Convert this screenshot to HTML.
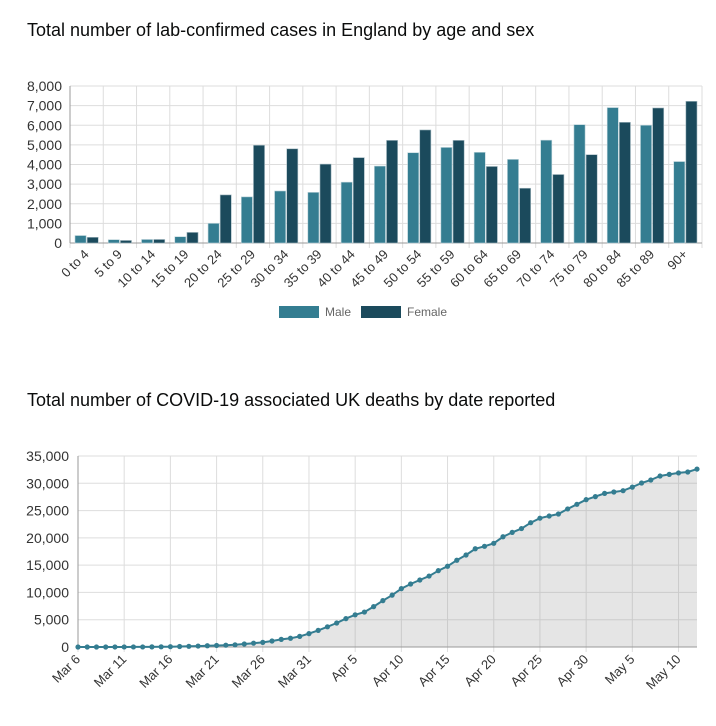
<!DOCTYPE html>
<html><head><meta charset="utf-8"><style>
body{margin:0;background:#fff;width:716px;height:726px;overflow:hidden;font-family:"Liberation Sans",sans-serif}
h2{position:absolute;left:27px;margin:0;font-weight:normal;font-size:18px;color:#0b0c0c}
svg{position:absolute;left:0;top:0}
</style></head><body>
<h2 style="top:20px">Total number of lab-confirmed cases in England by age and sex</h2>
<h2 style="top:390px">Total number of COVID-19 associated UK deaths by date reported</h2>
<svg id="s" width="716" height="726"></svg>
<script>
const ageGroups=["0 to 4","5 to 9","10 to 14","15 to 19","20 to 24","25 to 29","30 to 34","35 to 39","40 to 44","45 to 49","50 to 54","55 to 59","60 to 64","65 to 69","70 to 74","75 to 79","80 to 84","85 to 89","90+"];
const maleCases=[380,170,180,320,1000,2350,2650,2580,3100,3920,4600,4870,4620,4260,5240,6030,6900,6000,4150];
const femaleCases=[290,130,180,540,2450,4980,4800,4020,4350,5230,5760,5230,3900,2790,3490,4500,6150,6880,7220];
const casesTicks=[0,1000,2000,3000,4000,5000,6000,7000,8000];
const deathTicks=[0,5000,10000,15000,20000,25000,30000,35000];
const dateLabels=["Mar 6","Mar 11","Mar 16","Mar 21","Mar 26","Mar 31","Apr 5","Apr 10","Apr 15","Apr 20","Apr 25","Apr 30","May 5","May 10"];
const deaths=[1,2,3,4,6,8,10,14,21,35,60,90,130,170,230,280,330,400,550,700,850,1100,1400,1600,1950,2450,3050,3700,4400,5200,5900,6400,7400,8500,9500,10700,11540,12280,13000,13990,14800,15900,16860,18000,18450,19000,20200,21000,21700,22780,23600,24000,24370,25300,26150,27000,27560,28150,28400,28640,29300,30050,30600,31330,31630,31900,32070,32600];
const NS="http://www.w3.org/2000/svg",svg=document.getElementById('s');
function mk(t,a,txt){const e=document.createElementNS(NS,t);for(const k in a)e.setAttribute(k,a[k]);if(txt!==undefined)e.textContent=txt;svg.appendChild(e);return e;}
const fmt=v=>v.toLocaleString('en-US');
// chart 1
const L1=70,R1=702,T1=86,B1=243,cw=(R1-L1)/ageGroups.length;
const y1=v=>B1-v/8000*(B1-T1), x1=i=>L1+i*cw;
casesTicks.forEach(v=>{
 const g=mk('line',{x1:L1,x2:R1,y1:y1(v),y2:y1(v),stroke:'#ddd'});
 
 const t=mk('text',{x:62,y:y1(v)+5,'text-anchor':'end','font-size':14,fill:'#333'},fmt(v));
 
});
for(let i=0;i<=ageGroups.length;i++){const g=mk('line',{x1:x1(i),x2:x1(i),y1:T1,y2:B1+5,stroke:'#ddd'});
 }
mk('line',{x1:L1,x2:L1,y1:T1,y2:B1,stroke:'#999'});
mk('line',{x1:L1,x2:R1,y1:B1,y2:B1,stroke:'#999'});
ageGroups.forEach((c,i)=>{
 const bx=x1(i)+5,bw=(cw-10-1)/2;
 const m=mk('rect',{x:bx,y:y1(maleCases[i]),width:bw,height:B1-y1(maleCases[i]),fill:'#347d91',stroke:'#bcd3da','stroke-width':0.6});
 
 const f=mk('rect',{x:bx+bw+1,y:y1(femaleCases[i]),width:bw,height:B1-y1(femaleCases[i]),fill:'#1b4a5c',stroke:'#a8bcc4','stroke-width':0.6});
 
 const cx=x1(i)+cw/2+3,cy=B1+12;
 const t=mk('text',{x:cx,y:cy,'text-anchor':'end','font-size':13,fill:'#333',transform:`rotate(-45 ${cx} ${cy})`},c);
 
});
let e;
e=mk('rect',{x:279,y:306,width:40,height:12,fill:'#347d91'});
e=mk('text',{x:325,y:316,'font-size':12,fill:'#666'},'Male');
e=mk('rect',{x:361,y:306,width:40,height:12,fill:'#1b4a5c'});
e=mk('text',{x:407,y:316,'font-size':12,fill:'#666'},'Female');
// chart 2
const L2=78,R2=697,T2=456,B2=647,n=deaths.length,dx=(R2-L2)/(n-1);
const y2=v=>B2-v/35000*(B2-T2), x2=i=>L2+i*dx;
deathTicks.forEach(v=>{
 const g=mk('line',{x1:L2,x2:R2,y1:y2(v),y2:y2(v),stroke:'#ddd'});
 
 const t=mk('text',{x:69,y:y2(v)+5,'text-anchor':'end','font-size':14,fill:'#333'},fmt(v));
 
});
dateLabels.forEach((d,k)=>{const x=x2(k*5);
 const g=mk('line',{x1:x,x2:x,y1:T2,y2:B2+5,stroke:'#ddd'});
 
 const cy=B2+13;
 const t=mk('text',{x:x+3,y:cy,'text-anchor':'end','font-size':13,fill:'#333',transform:`rotate(-45 ${x+3} ${cy})`},d);
 
});
let pts=deaths.map((v,i)=>x2(i).toFixed(1)+','+y2(v).toFixed(1));
e=mk('polygon',{points:pts.join(' ')+` ${x2(n-1)},${B2} ${L2},${B2}`,fill:'rgba(150,150,150,0.25)'});

mk('line',{x1:L2,x2:L2,y1:T2,y2:B2,stroke:'#999'});
mk('line',{x1:L2,x2:R2,y1:B2,y2:B2,stroke:'#999'});
e=mk('polyline',{points:pts.join(' '),fill:'none',stroke:'#347d91','stroke-width':2});

deaths.forEach((v,i)=>{const c=mk('circle',{cx:x2(i),cy:y2(v),r:2.6,fill:'#347d91'});
 });
</script>
</body></html>
